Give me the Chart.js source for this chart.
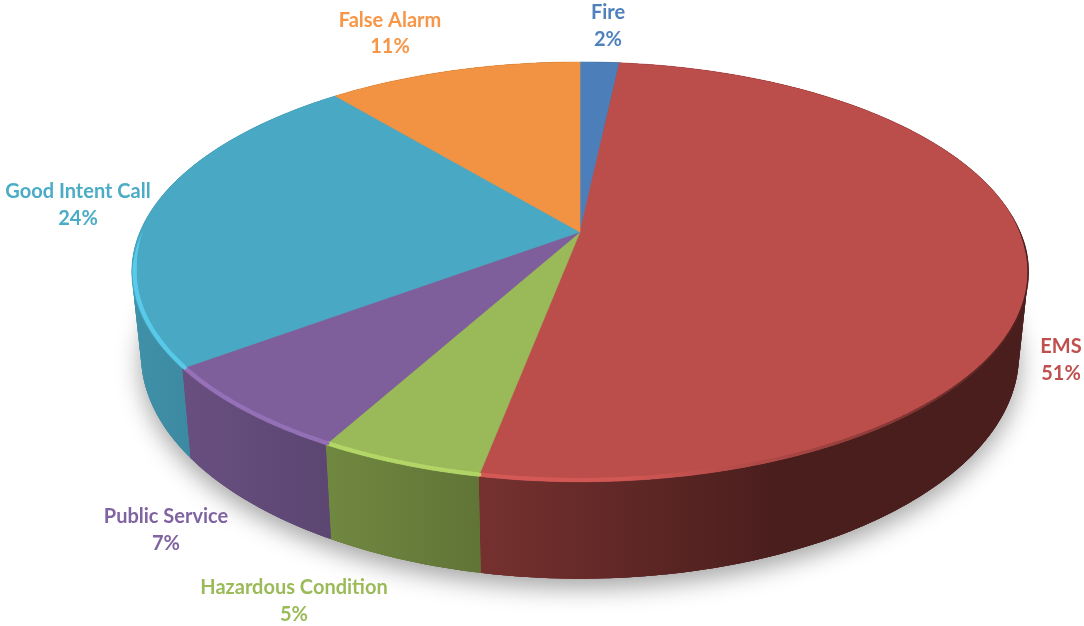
<!DOCTYPE html>
<html>
<head>
<meta charset="utf-8">
<title>Incident types</title>
<script src="https://cdn.jsdelivr.net/npm/chart.js@4/dist/chart.umd.js"></script>
<style>
  html, body { margin: 0; background: #fff; }
  canvas { display: block; filter: blur(0.55px); }
</style>
</head>
<body>
<canvas id="pie" width="1084" height="626"></canvas>
<script>
// Data, clockwise from 12 o'clock
const categories = ['Fire', 'EMS', 'Hazardous Condition', 'Public Service', 'Good Intent Call', 'False Alarm'];
const shares = [1.7, 51.3, 5, 6.8, 24.2, 11];
const sliceColors = ['#4c7fba', '#bb4e4b', '#9ab958', '#7e5f9b', '#49a8c3', '#f29343'];
const labelColors = ['#4f81bd', '#c0504d', '#9bbb59', '#8064a2', '#4bacc6', '#f79646'];

// Label centres (x, first line y, second line y)
const labelSpots = [[608, 13, 40], [1061, 347, 374], [294, 588, 615], [166, 517, 544], [78, 192, 219], [390, 21, 47]];

// Perspective planes of the top and bottom of the disc
const TOP = { cx: 580, cy: 232, a: 440, b: 202.3 };
const BOTTOM = { cx: 580, cy: 312, a: 431, b: 216 };
const TILT = 0.19;

// Circle angle -> screen point on one plane
function project(plane, angle, r = 1) {
  const u = Math.cos(angle) * r;
  const v = Math.sin(angle) * r;
  const w = 1 - TILT * v;
  return [plane.cx + plane.a * u / w, plane.cy + plane.b * v / w];
}

function arcPoints(plane, start, end, r = 1) {
  const steps = Math.max(4, Math.ceil((end - start) * 90));
  const pts = [];
  for (let i = 0; i <= steps; i++) pts.push(project(plane, start + (end - start) * i / steps, r));
  return pts;
}

function tracePoly(ctx, pts) {
  ctx.beginPath();
  pts.forEach((p, i) => (i ? ctx.lineTo(p[0], p[1]) : ctx.moveTo(p[0], p[1])));
  ctx.closePath();
}

function shade(hex, f) {
  const n = parseInt(hex.slice(1), 16);
  const c = [n >> 16, (n >> 8) & 255, n & 255].map((x) => Math.min(255, Math.round(x * f)));
  return `rgb(${c[0]},${c[1]},${c[2]})`;
}

// Side lighting: brighter on the left, flat dark from x = 780
function wallGradient(ctx, hex) {
  const g = ctx.createLinearGradient(137, 0, 1024, 0);
  g.addColorStop(0, shade(hex, 0.86));
  g.addColorStop(0.384, shade(hex, 0.63));
  g.addColorStop(0.725, shade(hex, 0.39));
  g.addColorStop(1, shade(hex, 0.39));
  return g;
}

function rimGradient(ctx, hex) {
  const g = ctx.createLinearGradient(134, 0, 1026, 0);
  g.addColorStop(0, shade(hex, 1.2));
  g.addColorStop(0.55, shade(hex, 1.12));
  g.addColorStop(0.72, shade(hex, 0.92));
  g.addColorStop(0.85, shade(hex, 0.72));
  g.addColorStop(1, shade(hex, 0.4));
  return g;
}

const pie3d = {
  id: 'pie3d',
  beforeDatasetsDraw(chart) {
    const ctx = chart.ctx;
    const arcs = chart.getDatasetMeta(0).data;

    // soft ground shadow
    ctx.save();
    ctx.shadowColor = 'rgba(0,0,0,0.36)';
    ctx.shadowBlur = 24;
    ctx.shadowOffsetY = 9;
    ctx.fillStyle = '#888';
    tracePoly(ctx, arcPoints(BOTTOM, 0, Math.PI * 2));
    ctx.fill();
    ctx.restore();

    // walls, in overlapping quads so the fold at the sides stays filled
    arcs.forEach((arc, i) => {
      const top = arcPoints(TOP, arc.startAngle, arc.endAngle);
      const bottom = arcPoints(BOTTOM, arc.startAngle, arc.endAngle);
      ctx.fillStyle = wallGradient(ctx, sliceColors[i]);
      tracePoly(ctx, top.concat(bottom.slice().reverse()));
      ctx.fill();
      for (let k = 0; k < top.length - 1; k++) {
        const next = Math.min(k + 2, top.length - 1);
        tracePoly(ctx, [top[k], top[next], bottom[next], bottom[k]]);
        ctx.fill();
      }
    });

    // top faces
    arcs.forEach((arc, i) => {
      const pts = [project(TOP, 0, 0)].concat(arcPoints(TOP, arc.startAngle, arc.endAngle));
      tracePoly(ctx, pts);
      ctx.fillStyle = sliceColors[i];
      ctx.strokeStyle = sliceColors[i];
      ctx.lineWidth = 0.6;
      ctx.fill();
      ctx.stroke();
    });

    // bevel along the front rim: tapers in at the sides, thin on the dark right
    ctx.lineCap = 'round';
    arcs.forEach((arc, i) => {
      const steps = Math.ceil((arc.endAngle - arc.startAngle) * 120);
      ctx.strokeStyle = rimGradient(ctx, sliceColors[i]);
      for (let k = 0; k < steps; k++) {
        const a0 = arc.startAngle + (arc.endAngle - arc.startAngle) * k / steps;
        const a1 = arc.startAngle + (arc.endAngle - arc.startAngle) * (k + 1) / steps;
        const lim = Math.cos(a0) > 0 ? -0.12 : 0;
        const fade = Math.min(1, (Math.sin(a0) - lim) / 0.18);
        if (fade <= 0) continue;
        const x = project(TOP, a0)[0];
        const t = Math.min(1, Math.max(0, (x - 700) / 300));
        const r = 0.994 + 0.006 * t;
        const p0 = project(TOP, a0, r);
        const p1 = project(TOP, a1, r);
        ctx.lineWidth = (4 - 2.6 * t) * fade;
        ctx.beginPath();
        ctx.moveTo(p0[0], p0[1]);
        ctx.lineTo(p1[0], p1[1]);
        ctx.stroke();
      }
    });
    ctx.lineCap = 'butt';

    return false; // the flat arcs are replaced by the faces above
  },
  afterDraw(chart) {
    const ctx = chart.ctx;
    ctx.save();
    ctx.font = 'bold 20px Lato, "Open Sans", sans-serif';
    ctx.textAlign = 'center';
    ctx.textBaseline = 'middle';
    categories.forEach((name, i) => {
      const spot = labelSpots[i];
      ctx.fillStyle = labelColors[i];
      ctx.fillText(name, spot[0], spot[1]);
      ctx.fillText(Math.round(shares[i]) + '%', spot[0], spot[2]);
    });
    ctx.restore();
  }
};

new Chart(document.getElementById('pie'), {
  type: 'pie',
  data: {
    labels: categories,
    datasets: [{ data: shares, backgroundColor: sliceColors, borderWidth: 0 }]
  },
  options: {
    responsive: false,
    animation: false,
    plugins: { legend: { display: false }, tooltip: { enabled: false } }
  },
  plugins: [pie3d]
});
</script>
</body>
</html>
